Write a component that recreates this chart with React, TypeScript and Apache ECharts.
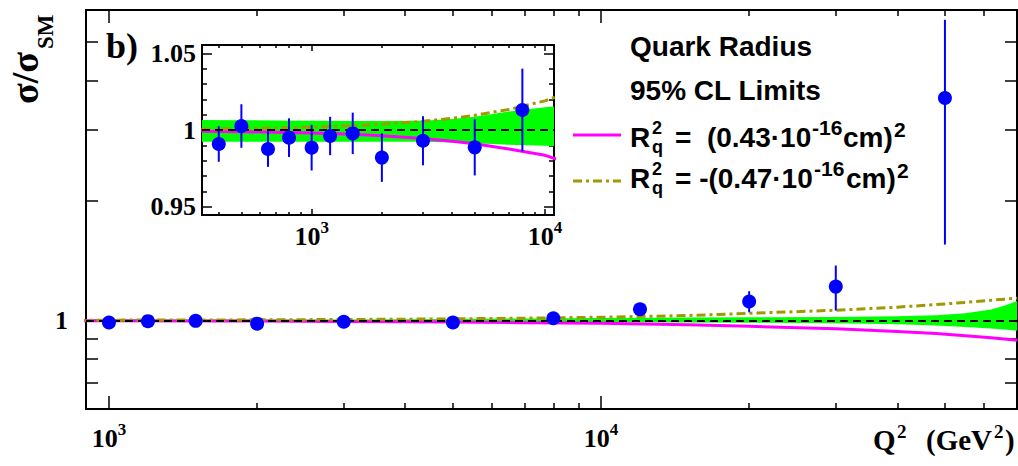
import React, { useEffect, useRef } from "react";
import * as echarts from "echarts";

// Measured cross-section ratio sigma/sigma_SM per Q^2 bin (GeV^2)
const q2Bins = [400, 500, 650, 800, 1000, 1200, 1500, 2000, 3000, 5000, 8000, 12000, 20000, 30000, 50000];
const ratio = [0.9909, 1.0026, 0.9876, 0.995, 0.9885, 0.9961, 0.9978, 0.982, 0.993, 0.9887, 1.013, 1.067, 1.116, 1.216, 3.61];
const ratioErr = [0.0116, 0.0142, 0.0116, 0.0126, 0.0149, 0.0125, 0.0135, 0.0158, 0.016, 0.0183, 0.027, 0.03, 0.068, 0.157, 2.06];

// Quark radius limit curves and SM uncertainty band, sampled in Q^2
const curveQ2 = [337, 500, 700, 1000, 1500, 2000, 3000, 4000, 5000, 7000, 10000, 15000, 20000, 30000, 40000, 48000, 55000, 62000, 66000, 70100];
const curvePos = [0.9992, 0.9989, 0.9986, 0.9981, 0.9972, 0.9963, 0.9945, 0.9927, 0.991, 0.9876, 0.9835, 0.975, 0.967, 0.953, 0.938, 0.927, 0.916, 0.905, 0.899, 0.892];
const curveNeg = [1.0006, 1.0009, 1.0013, 1.0019, 1.0028, 1.0038, 1.0057, 1.0076, 1.0096, 1.0134, 1.019, 1.029, 1.042, 1.061, 1.08, 1.096, 1.11, 1.124, 1.131, 1.137];
const bandLow = [0.9924, 0.9924, 0.9924, 0.9924, 0.9924, 0.9924, 0.9923, 0.9919, 0.9913, 0.9904, 0.9897, 0.9885, 0.987, 0.984, 0.979, 0.971, 0.963, 0.955, 0.949, 0.942];
const bandHigh = [1.0065, 1.0064, 1.0062, 1.006, 1.0058, 1.0058, 1.006, 1.0072, 1.0087, 1.012, 1.0148, 1.017, 1.019, 1.021, 1.024, 1.03, 1.042, 1.065, 1.088, 1.12];

// Tick positions
const mainMajorX = [1000, 10000];
const mainMinorX = [2000, 3000, 4000, 5000, 6000, 7000, 8000, 9000, 20000, 30000, 40000, 50000, 60000];
const mainMajorY = [1];
const mainMinorY = [0.7, 0.8, 0.9, 2, 3, 4, 5];
const insetMajorX = [1000, 10000];
const insetMinorX = [400, 500, 600, 700, 800, 900, 2000, 3000, 4000, 5000, 6000, 7000, 8000, 9000];
const insetMajorY = [0.95, 1, 1.05];
const insetMinorY = [0.96, 0.97, 0.98, 0.99, 1.01, 1.02, 1.03, 1.04];

const SERIF = "'Liberation Serif', 'Times New Roman', serif";
const SANS = "'Liberation Sans', Arial, Helvetica, sans-serif";

const MAGENTA = "#ff00ff";
const OLIVE = "#a09a00";
const GREEN = "#00ff00";
const BLUE = "#0000ff";

const powerRich = {
  b: { fontFamily: SERIF, fontWeight: "bold", fontSize: 26, lineHeight: 34, color: "#000" },
  s: { fontFamily: SERIF, fontWeight: "bold", fontSize: 17, verticalAlign: "top", color: "#000" },
};

const powerLabel = (v: number) => `{b|10}{s|${Math.round(Math.log10(v))}}`;
const plainLabel = (v: number) => `${+Number(v).toPrecision(4)}`;

function tickAxis(base: any, position: string, values: number[], len: number, label?: any) {
  return {
    ...base,
    position,
    axisLine: { show: false },
    splitLine: { show: false },
    axisPointer: { show: false },
    axisTick: {
      show: true,
      inside: true,
      length: len,
      customValues: values,
      lineStyle: { color: "#000", width: 1.5 },
    },
    axisLabel: label ? { show: true, customValues: values, ...label } : { show: false },
  };
}

function axisSet(
  base: any,
  positions: [string, string],
  major: number[],
  minor: number[],
  majorLen: number,
  minorLen: number,
  label: any
) {
  return [
    tickAxis(base, positions[0], major, majorLen, label),
    tickAxis(base, positions[0], minor, minorLen),
    tickAxis(base, positions[1], major, majorLen),
    tickAxis(base, positions[1], minor, minorLen),
  ];
}

function bandSeries(xi: number, yi: number) {
  return {
    type: "custom",
    xAxisIndex: xi,
    yAxisIndex: yi,
    clip: true,
    silent: true,
    z: 1,
    data: [[1000, 1]],
    renderItem: (_params: any, api: any) => {
      const upper = curveQ2.map((q, i) => api.coord([q, bandHigh[i]]));
      const lower = curveQ2.map((q, i) => api.coord([q, bandLow[i]])).reverse();
      return {
        type: "polygon",
        shape: { points: upper.concat(lower) },
        style: { fill: GREEN, stroke: null },
      };
    },
  };
}

function referenceSeries(xi: number, yi: number) {
  return {
    type: "line",
    xAxisIndex: xi,
    yAxisIndex: yi,
    data: [],
    silent: true,
    z: 2,
    markLine: {
      silent: true,
      symbol: ["none", "none"],
      label: { show: false },
      animation: false,
      lineStyle: { color: "#000", width: 2, type: [8, 5] },
      data: [{ yAxis: 1 }],
    },
  };
}

function curveSeries(xi: number, yi: number, values: number[], color: string, dash: any) {
  return {
    type: "line",
    xAxisIndex: xi,
    yAxisIndex: yi,
    data: curveQ2.map((q, i) => [q, values[i]]),
    showSymbol: false,
    symbol: "none",
    silent: true,
    clip: true,
    z: 3,
    lineStyle: { color, width: 3, type: dash, cap: "butt" },
  };
}

function errorBarSeries(xi: number, yi: number) {
  return {
    type: "custom",
    xAxisIndex: xi,
    yAxisIndex: yi,
    clip: true,
    silent: true,
    z: 4,
    data: q2Bins.map((q, i) => [q, ratio[i], ratioErr[i]]),
    renderItem: (_params: any, api: any) => {
      const q = api.value(0);
      const r = api.value(1);
      const e = api.value(2);
      const lo = api.coord([q, r - e]);
      const hi = api.coord([q, r + e]);
      return {
        type: "line",
        shape: { x1: lo[0], y1: lo[1], x2: hi[0], y2: hi[1] },
        style: { stroke: BLUE, lineWidth: 2 },
      };
    },
  };
}

function pointSeries(xi: number, yi: number) {
  return {
    type: "scatter",
    xAxisIndex: xi,
    yAxisIndex: yi,
    data: q2Bins.map((q, i) => [q, ratio[i]]),
    symbol: "circle",
    symbolSize: 14,
    clip: true,
    silent: true,
    z: 5,
    itemStyle: { color: BLUE, opacity: 1 },
  };
}

function txt(text: string, x: number, y: number, font: string, extra: any = {}) {
  return {
    type: "text",
    x,
    y,
    z: 20,
    ...extra,
    style: {
      text,
      font,
      fill: "#000",
      textAlign: "left",
      textVerticalAlign: "middle",
      align: "left",
      verticalAlign: "middle",
    },
  };
}

const legendFont = `bold 28px ${SANS}`;
const legendSup = `bold 21px ${SANS}`;
const legendIdx = `bold 18px ${SANS}`;
const axisFont = `bold 29px ${SERIF}`;
const axisSup = `bold 19px ${SERIF}`;

// R with stacked superscript 2 and subscript q
function rq(y: number) {
  return [
    txt("R", 630, y, legendFont),
    txt("2", 652, y - 9, legendIdx),
    txt("q", 652, y + 10, legendIdx),
  ];
}

const mainX = { type: "log", logBase: 10, gridIndex: 0, min: 898, max: 70050 };
const mainY = { type: "log", logBase: 10, gridIndex: 0, min: 0.6, max: 6.0 };
const insetX = { type: "log", logBase: 10, gridIndex: 1, min: 339, max: 10930 };
const insetY = { type: "value", gridIndex: 1, min: 0.9446, max: 1.0554 };

const option: any = {
  animation: false,
  backgroundColor: "#fff",
  grid: [
    {
      left: 86, top: 10, width: 931, height: 399,
      show: true, borderColor: "#000", borderWidth: 2, backgroundColor: "transparent",
      containLabel: false, outerBoundsMode: "none",
    },
    {
      left: 202, top: 45, width: 352, height: 170,
      show: true, borderColor: "#000", borderWidth: 2, backgroundColor: "#fff",
      containLabel: false, outerBoundsMode: "none",
    },
  ],
  xAxis: [
    ...axisSet(mainX, ["bottom", "top"], mainMajorX, mainMinorX, 13, 6, {
      margin: 12, formatter: powerLabel, rich: powerRich,
    }),
    ...axisSet(insetX, ["bottom", "top"], insetMajorX, insetMinorX, 6, 3, {
      margin: 4, formatter: powerLabel, rich: powerRich,
    }),
  ],
  yAxis: [
    ...axisSet(mainY, ["left", "right"], mainMajorY, mainMinorY, 20, 12, {
      margin: 18, formatter: plainLabel,
      fontFamily: SERIF, fontWeight: "bold", fontSize: 26, color: "#000",
    }),
    ...axisSet(insetY, ["left", "right"], insetMajorY, insetMinorY, 10, 5, {
      margin: 6, formatter: plainLabel,
      fontFamily: SERIF, fontWeight: "bold", fontSize: 26, color: "#000",
    }),
  ],
  series: [
    // full Q^2 range (axes 0)
    bandSeries(0, 0),
    referenceSeries(0, 0),
    curveSeries(0, 0, curvePos, MAGENTA, "solid"),
    curveSeries(0, 0, curveNeg, OLIVE, [9, 4, 3, 4]),
    errorBarSeries(0, 0),
    pointSeries(0, 0),
    // inset, low Q^2 region (axes 4)
    bandSeries(4, 4),
    referenceSeries(4, 4),
    curveSeries(4, 4, curvePos, MAGENTA, "solid"),
    curveSeries(4, 4, curveNeg, OLIVE, [9, 4, 3, 4]),
    errorBarSeries(4, 4),
    pointSeries(4, 4),
  ],
  graphic: [
    // panel tag
    txt("b)", 106, 46, `bold 36px ${SERIF}`),
    // y axis title, reading upwards
    txt("σ/σ", 25, 104, `bold 38px ${SERIF}`, { rotation: Math.PI / 2 }),
    txt("SM", 45, 49, `bold 23px ${SERIF}`, { rotation: Math.PI / 2 }),
    // x axis title
    txt("Q", 873, 440, axisFont),
    txt("2", 897, 431.5, axisSup),
    txt("(GeV", 926, 440, axisFont),
    txt("2", 994, 431.5, axisSup),
    txt(")", 1005, 440, axisFont),
    // legend
    txt("Quark Radius", 630, 46.2, legendFont),
    txt("95% CL Limits", 630, 90.2, legendFont),
    {
      type: "line", z: 20,
      shape: { x1: 573, y1: 135, x2: 621, y2: 135 },
      style: { stroke: MAGENTA, lineWidth: 3 },
    },
    ...rq(137),
    txt("=  (0.43·10", 675, 137, legendFont),
    txt("-16", 812, 127.6, legendSup),
    txt("cm)", 843, 137, legendFont),
    txt("2", 894, 129.2, legendSup),
    {
      type: "line", z: 20,
      shape: { x1: 573, y1: 181, x2: 621, y2: 181 },
      style: { stroke: OLIVE, lineWidth: 3, lineDash: [9, 4, 3, 4] },
    },
    ...rq(178.3),
    txt("= -(0.47·10", 675, 178.3, legendFont),
    txt("-16", 814, 168.9, legendSup),
    txt("cm)", 846, 178.3, legendFont),
    txt("2", 897, 170.5, legendSup),
  ],
};

export default function App() {
  const ref = useRef<HTMLDivElement>(null);
  useEffect(() => {
    const chart = echarts.init(ref.current!, null, { renderer: "svg" });
    chart.setOption(option);
    return () => chart.dispose();
  }, []);
  return (
    <div
      ref={ref}
      style={{ position: "fixed", left: 0, top: 0, width: 1018, height: 466, background: "#fff" }}
    />
  );
}
